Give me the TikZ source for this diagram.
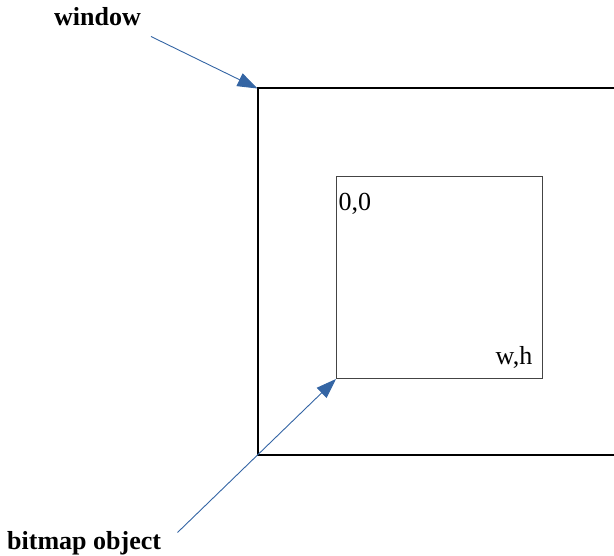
\documentclass[tikz,border=0pt]{standalone}
\usepackage{fontspec}
\setmainfont{Liberation Serif}
\usetikzlibrary{arrows.meta}
\definecolor{arrowblue}{HTML}{3465A4}
\definecolor{framegray}{HTML}{444444}
\tikzset{
  lbl/.style={inner sep=0pt, font=\fontsize{26}{30}\selectfont},
  boldlbl/.style={lbl, font=\fontsize{26}{30}\selectfont\bfseries},
  pointer/.style={draw=arrowblue, line width=0.9pt, -{Triangle[length=20pt,width=14pt,fill=arrowblue]}},
  windowframe/.style={draw=black, line width=2pt},
  bitmapframe/.style={draw=framegray, line width=1pt},
}
\begin{document}
\begin{tikzpicture}[x=1pt,y=-1pt]
  \useasboundingbox (0,0) rectangle (614,556);
  \clip (0,0) rectangle (614,556);
  % window frame (right side runs off the picture)
  \coordinate (wtl) at (257.5,88.5);
  \coordinate (wbl) at (257.5,455.5);
  \draw[windowframe] (640,88.5) -- (wtl) -- (wbl) -- (640,455.5);
  % bitmap object
  \node[bitmapframe, minimum width=205.5pt, minimum height=201.5pt, inner sep=0pt, anchor=north west] (bmp) at (336,176.5) {};
  \coordinate (btl) at (bmp.south west);
  \node[lbl, anchor=base west] (origin) at (338.5,210.5) {0,0};
  \node[lbl, anchor=base east] (size) at (532.5,365) {w,h};
  % labels
  \node[boldlbl, anchor=base west] (winlabel) at (54,26) {window};
  \node[boldlbl, anchor=base west] (bmplabel) at (7,549) {bitmap object};
  \coordinate (winstart) at (151,36.5);
  \coordinate (bmpstart) at (177.5,532.5);
  \draw[pointer] (winstart) -- (wtl);
  \draw[pointer] (bmpstart) -- (btl);
\end{tikzpicture}
\end{document}
